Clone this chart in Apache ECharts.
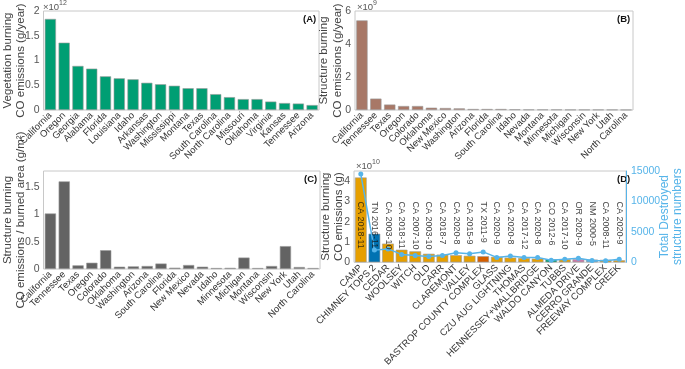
<!DOCTYPE html>
<html lang="en">
<head>
<meta charset="UTF-8">
<title>CO emissions from burning</title>
<script src="https://cdn.jsdelivr.net/npm/echarts@6/dist/echarts.min.js"></script>
<style>
  html, body { margin: 0; padding: 0; background: #fff; }
  #main { width: 685px; height: 369px; }
</style>
</head>
<body>
<div id="main"></div>
<script>
// (A) vegetation burning CO emissions, x10^12 g/year
var vegStates = ['California', 'Oregon', 'Georgia', 'Alabama', 'Florida', 'Louisiana', 'Idaho', 'Arkansas',
  'Washington', 'Mississippi', 'Montana', 'Texas', 'South Carolina', 'North Carolina', 'Missouri',
  'Oklahoma', 'Virginia', 'Kansas', 'Tennessee', 'Arizona'];
var vegCO = [1.84, 1.36, 0.89, 0.835, 0.68, 0.64, 0.62, 0.55, 0.52, 0.49, 0.44, 0.44, 0.32, 0.26, 0.22,
  0.22, 0.17, 0.14, 0.13, 0.10];

// (B) structure burning CO emissions, x10^9 g/year
var strStates = ['California', 'Tennessee', 'Texas', 'Oregon', 'Colorado', 'Oklahoma', 'New Mexico',
  'Washington', 'Arizona', 'Florida', 'South Carolina', 'Idaho', 'Nevada', 'Montana', 'Minnesota',
  'Michigan', 'Wisconsin', 'New York', 'Utah', 'North Carolina'];
var strCO = [5.43, 0.69, 0.33, 0.24, 0.24, 0.14, 0.12, 0.10, 0.06, 0.06, 0.06, 0.04, 0.03, 0.03, 0.03,
  0.02, 0.02, 0.02, 0.02, 0.01];

// (C) structure burning CO per burned area, g/m2
var areaStates = ['California', 'Tennessee', 'Texas', 'Oregon', 'Colorado', 'Oklahoma', 'Washington',
  'Arizona', 'South Carolina', 'Florida', 'New Mexico', 'Nevada', 'Idaho', 'Minnesota', 'Michigan',
  'Montana', 'Wisconsin', 'New York', 'Utah', 'North Carolina'];
var areaCO = [1.02, 1.61, 0.067, 0.115, 0.345, 0.042, 0.048, 0.055, 0.10, 0.024, 0.073, 0.042, 0.018,
  0.021, 0.21, 0.018, 0.055, 0.42, 0.036, 0.018];

// (D) individual fires: structure burning CO (x10^10 g) and destroyed structures
var fireNames = ['CAMP', 'CHIMNEY TOPS 2', 'CEDAR', 'WOOLSEY', 'WITCH', 'OLD', 'CARR', 'CLAREMONT',
  'VALLEY', 'BASTROP COUNTY COMPLEX', 'GLASS', 'CZU AUG LIGHTNING', 'THOMAS', 'HENNESSEY+WALLBRIDGE',
  'WALDO CANYON', 'TUBBS', 'ALMEDA DRIVE', 'CERRO GRANDE', 'FREEWAY COMPLEX', 'CREEK'];
var fireDates = ['CA 2018-11', 'TN 2016-11', 'CA 2003-10', 'CA 2018-11', 'CA 2007-10', 'CA 2003-10',
  'CA 2018-7', 'CA 2020-8', 'CA 2015-9', 'TX 2011-9', 'CA 2020-9', 'CA 2020-8', 'CA 2017-12',
  'CA 2020-8', 'CO 2012-6', 'CA 2017-10', 'OR 2020-9', 'NM 2000-5', 'CA 2008-11', 'CA 2020-9'];
var fireCO = [4.18, 1.41, 0.92, 0.62, 0.54, 0.42, 0.38, 0.35, 0.32, 0.30, 0.27, 0.23, 0.21, 0.18, 0.15,
  0.15, 0.15, 0.135, 0.12, 0.10];
var destroyed = [14500, 2000, 2200, 1300, 1100, 960, 1100, 1560, 1410, 1710, 800, 1050, 800, 800, 350,
  500, 650, 300, 250, 500];

var stateColor = { CA: '#E69F00', TN: '#0072B2', TX: '#D55E00', CO: '#009E73', OR: '#CC79A7', NM: '#56B4E9' };
var lineBlue = '#56B4E9';
var FONT = "'Liberation Sans', Arial, sans-serif";
var LABEL_Y = 3.0;   // where the rotated fire labels start in panel D

var chart = echarts.init(document.getElementById('main'));

function grid(left, top, width, height) {
  return { left: left, top: top, width: width, height: height, show: true,
    borderColor: '#c8c8c8', borderWidth: 1, backgroundColor: 'transparent' };
}

function catAxis(gi, cats, size) {
  return {
    type: 'category', gridIndex: gi, data: cats,
    axisLine: { show: false }, axisTick: { show: false },
    axisLabel: { interval: 0, rotate: 45, fontSize: size, color: '#333', margin: 4, fontFamily: FONT }
  };
}

function valAxis(gi, max, interval, name, gap) {
  return {
    type: 'value', gridIndex: gi, min: 0, max: max, interval: interval,
    splitLine: { show: false }, axisLine: { show: false }, axisTick: { show: false },
    axisLabel: { fontSize: 10.5, color: '#555', margin: 4, fontFamily: FONT, showMaxLabel: max % interval === 0 },
    name: name, nameLocation: 'middle', nameRotate: 90, nameGap: gap, nameMoveOverlap: false,
    nameTextStyle: { fontSize: 11.5, color: '#444', fontFamily: FONT, lineHeight: 13.5 }
  };
}

function textEl(left, top, text, opts) {
  return { type: 'text', left: left, top: top,
    style: Object.assign({ text: text, fontFamily: FONT, fontSize: 10, fill: '#555' }, opts || {}) };
}

function expEl(left, top, exp) {
  return textEl(left, top, '{a|×10}{b|' + exp + '}', {
    rich: {
      a: { fontSize: 9.5, fill: '#555', fontFamily: FONT, verticalAlign: 'bottom', lineHeight: 12 },
      b: { fontSize: 7, fill: '#555', fontFamily: FONT, verticalAlign: 'top', lineHeight: 12, padding: [0, 0, 4, 0] }
    }
  });
}

var barEdge = { borderColor: '#9a9a9a', borderWidth: 0.6 };
var letterStyle = { fontWeight: 'bold', fill: '#111', fontSize: 9.5 };

var option = {
  animation: false,
  backgroundColor: '#fff',
  textStyle: { fontFamily: FONT },
  grid: [
    grid(41, 11, 278, 99),
    grid(355, 11, 278, 99),
    grid(41, 171, 279, 98),
    grid(354, 171, 279, 98)
  ],
  xAxis: [
    catAxis(0, vegStates, 9.5),
    catAxis(1, strStates, 9.5),
    catAxis(2, areaStates, 9.5),
    catAxis(3, fireNames, 9.5)
  ],
  yAxis: [
    valAxis(0, 2, 0.5, 'Vegetation burning\nCO emissions (g/year)', 15.5),
    valAxis(1, 6, 2, 'Structure burning\nCO emissions (g/year)', 10.5),
    valAxis(2, 1.8, 0.5, 'Structure burning\nCO emissions / burned area (g/m²)', 15.5),
    valAxis(3, 4.5, 1, 'Structure burning\nCO emissions (g)', 8),
    {
      type: 'value', gridIndex: 3, position: 'right', min: 0, max: 15000, interval: 5000,
      splitLine: { show: false }, axisTick: { show: false },
      axisLine: { show: true, lineStyle: { color: lineBlue, width: 1 } },
      axisLabel: { fontSize: 10.5, color: lineBlue, margin: 5, fontFamily: FONT,
        formatter: function (v) { return String(v); } },
      name: 'Total Destroyed\nstructure numbers', nameLocation: 'middle', nameRotate: 90, nameGap: 32,
      nameMoveOverlap: false,
      nameTextStyle: { fontSize: 12, color: lineBlue, fontFamily: FONT, lineHeight: 13 }
    }
  ],
  series: [
    { type: 'bar', xAxisIndex: 0, yAxisIndex: 0, data: vegCO, barCategoryGap: '19%',
      itemStyle: Object.assign({ color: '#009E73' }, barEdge) },
    { type: 'bar', xAxisIndex: 1, yAxisIndex: 1, data: strCO, barCategoryGap: '19%',
      itemStyle: Object.assign({ color: '#A87867' }, barEdge) },
    { type: 'bar', xAxisIndex: 2, yAxisIndex: 2, data: areaCO, barCategoryGap: '19%',
      itemStyle: Object.assign({ color: '#636363' }, barEdge) },
    { type: 'bar', xAxisIndex: 3, yAxisIndex: 3, barCategoryGap: '14%',
      data: fireCO.map(function (v, i) {
        return { value: v, itemStyle: { color: stateColor[fireDates[i].split(' ')[0]] } };
      }),
      itemStyle: barEdge },
    { type: 'line', xAxisIndex: 3, yAxisIndex: 4, data: destroyed, z: 5,
      symbol: 'circle', symbolSize: 5, showSymbol: true,
      lineStyle: { color: lineBlue, width: 1.5 }, itemStyle: { color: lineBlue } },
    { type: 'scatter', xAxisIndex: 3, yAxisIndex: 3, z: 6, symbolSize: 0, silent: true,
      data: fireDates.map(function () { return LABEL_Y; }),
      label: { show: true, position: 'inside', rotate: -90, align: 'left', verticalAlign: 'middle',
        fontSize: 9, color: '#111', fontFamily: FONT,
        formatter: function (p) { return fireDates[p.dataIndex]; } } }
  ],
  graphic: [
    expEl(43, 0, '12'),
    expEl(357, 0, '9'),
    expEl(356, 159, '10'),
    textEl(303, 14, '(A)', letterStyle),
    textEl(617, 14, '(B)', letterStyle),
    textEl(304, 174, '(C)', letterStyle),
    textEl(617, 174, '(D)', letterStyle)
  ]
};

chart.setOption(option);
</script>
</body>
</html>
